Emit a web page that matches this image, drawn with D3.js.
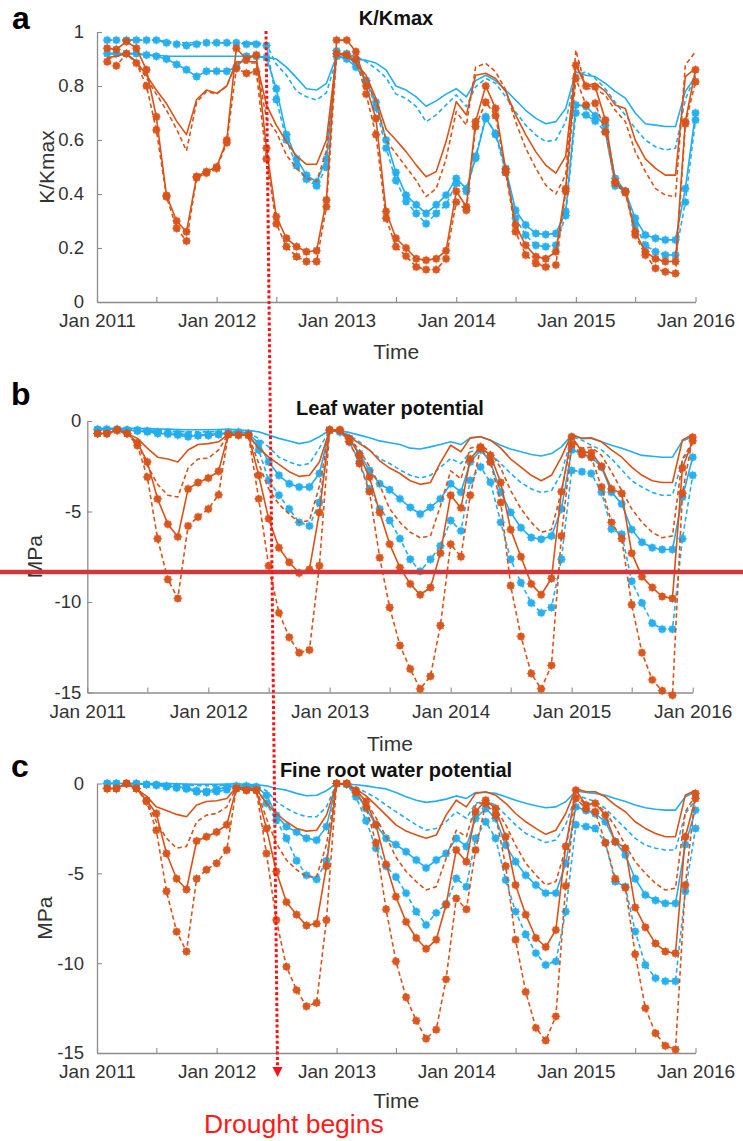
<!DOCTYPE html>
<html><head><meta charset="utf-8">
<script src="https://cdn.jsdelivr.net/npm/d3@7"></script>
<style>body{margin:0;background:#fff}svg{display:block}</style>
</head><body><svg id="c" width="743" height="1141"></svg>
<script>
// ---- time axis ----
const months = d3.range(1, 61).map(m => new Date(2011, m, 1)); // Feb 2011 .. Jan 2016
const xTickLabels = ["Jan 2011", "Jan 2012", "Jan 2013", "Jan 2014", "Jan 2015", "Jan 2016"];
const kTicks = [0, 0.2, 0.4, 0.6, 0.8, 1];
const mpaTicks = [0, -5, -10, -15];

// ---- panel a: K/Kmax ----
const kBlueSolid = [0.92,0.92,0.92,0.92,0.915,0.915,0.91,0.91,0.91,0.91,0.91,0.91,0.91,0.91,0.91,0.91,0.905,
0.9,0.87,0.83,0.79,0.785,0.81,0.91,0.905,0.9,0.895,0.885,0.86,0.8,
0.785,0.76,0.725,0.745,0.77,0.79,0.76,0.82,0.84,0.82,0.785,0.748,0.71,0.68,0.66,0.668,0.717,0.853,0.84,0.835,0.81,0.78,0.755,0.7,0.66,0.655,0.65,0.65,0.78,0.835];
const kBlueDashed = [0.97,0.97,0.97,0.97,0.97,0.97,0.965,0.96,0.96,0.96,0.96,0.96,0.96,0.96,0.96,0.96,0.955,
0.88,0.84,0.78,0.76,0.748,0.775,0.9,0.915,0.91,0.89,0.865,0.83,0.77,
0.754,0.724,0.668,0.693,0.73,0.767,0.724,0.797,0.828,0.81,0.76,0.705,0.655,0.618,0.594,0.6,0.668,0.84,0.853,0.828,0.79,0.74,0.692,0.643,0.6,0.575,0.563,0.57,0.75,0.84];
const kBlueSolidMk = [0.92,0.92,0.92,0.92,0.915,0.91,0.9,0.88,0.86,0.835,0.855,0.855,0.855,0.87,0.91,0.91,0.905,
0.79,0.62,0.53,0.47,0.445,0.53,0.91,0.9,0.87,0.82,0.74,0.6,0.48,
0.396,0.36,0.328,0.36,0.396,0.458,0.42,0.532,0.68,0.625,0.495,0.34,0.285,0.254,0.25,0.254,0.335,0.73,0.725,0.69,0.655,0.458,0.41,0.31,0.248,0.236,0.23,0.23,0.42,0.7];
const kBlueDashedMk = [0.97,0.97,0.97,0.97,0.97,0.97,0.96,0.955,0.95,0.955,0.96,0.96,0.96,0.96,0.955,0.955,0.95,
0.75,0.6,0.505,0.455,0.43,0.5,0.93,0.92,0.89,0.82,0.72,0.57,0.45,
0.372,0.328,0.29,0.328,0.36,0.44,0.41,0.54,0.686,0.62,0.48,0.31,0.248,0.21,0.205,0.21,0.32,0.7,0.693,0.67,0.63,0.43,0.41,0.285,0.21,0.186,0.174,0.174,0.37,0.674];
const kOrangeSolid = [0.905,0.91,0.92,0.89,0.84,0.785,0.735,0.67,0.62,0.75,0.785,0.773,0.8,0.89,0.89,0.89,0.73,
0.655,0.594,0.54,0.51,0.51,0.6,0.92,0.91,0.885,0.84,0.754,0.64,0.6,
0.557,0.507,0.464,0.483,0.594,0.742,0.693,0.84,0.847,0.828,0.78,0.693,0.62,0.556,0.507,0.477,0.54,0.878,0.8,0.81,0.78,0.73,0.717,0.6,0.53,0.495,0.47,0.47,0.835,0.865];
const kOrangeDashed = [0.9,0.91,0.92,0.885,0.83,0.77,0.71,0.64,0.56,0.74,0.78,0.77,0.8,0.885,0.885,0.885,0.68,
0.63,0.544,0.495,0.458,0.446,0.56,0.92,0.92,0.88,0.83,0.74,0.6,0.55,
0.5,0.45,0.39,0.42,0.53,0.705,0.655,0.87,0.884,0.853,0.785,0.668,0.57,0.495,0.433,0.4,0.47,0.933,0.79,0.79,0.765,0.71,0.668,0.557,0.483,0.42,0.396,0.39,0.878,0.927];
const kOrangeSolidMk = [0.94,0.935,0.965,0.94,0.86,0.686,0.395,0.3,0.26,0.465,0.483,0.5,0.6,0.94,0.9,0.915,0.57,
0.316,0.236,0.205,0.186,0.19,0.378,0.97,0.97,0.927,0.8,0.68,0.335,0.236,
0.2,0.16,0.155,0.16,0.19,0.41,0.353,0.668,0.8,0.717,0.49,0.285,0.21,0.168,0.16,0.186,0.42,0.877,0.8,0.797,0.674,0.446,0.41,0.26,0.186,0.16,0.15,0.15,0.668,0.86];
const kOrangeDashedMk = [0.89,0.875,0.92,0.885,0.8,0.637,0.39,0.273,0.226,0.46,0.478,0.495,0.59,0.865,0.847,0.853,0.53,
0.29,0.205,0.168,0.15,0.15,0.353,0.92,0.915,0.9,0.77,0.62,0.31,0.205,
0.17,0.13,0.12,0.12,0.16,0.37,0.34,0.65,0.74,0.69,0.48,0.26,0.174,0.143,0.13,0.137,0.41,0.828,0.73,0.736,0.63,0.44,0.405,0.248,0.174,0.125,0.112,0.106,0.66,0.816];

// ---- panel b: leaf water potential (MPa) ----
const lBlueSolid = [-0.4,-0.4,-0.4,-0.4,-0.4,-0.42,-0.44,-0.45,-0.47,-0.48,-0.48,-0.48,-0.47,-0.45,-0.5,-0.52,
-0.6,-0.78,-0.96,-1.1,-1.25,-1.15,-0.87,-0.5,-0.55,-0.63,-0.78,-0.93,-1.1,-1.2,
-1.3,-1.5,-1.55,-1.43,-1.3,-1.15,-1.3,-0.93,-0.87,-1.06,-1.34,-1.55,-1.7,-1.85,-1.93,-1.8,-1.43,-0.78,-0.96,-0.96,-1.15,-1.34,-1.5,-1.7,-1.9,-1.95,-2.0,-2.0,-1.1,-0.87];
const lBlueDashed = [-0.5,-0.5,-0.5,-0.5,-0.5,-0.5,-0.52,-0.55,-0.58,-0.6,-0.6,-0.6,-0.58,-0.55,-0.6,-0.65,
-0.96,-1.43,-2.0,-2.26,-2.45,-2.35,-1.5,-0.5,-0.6,-0.78,-1.15,-1.6,-2.08,-2.35,
-2.7,-3.0,-3.15,-3.0,-2.55,-2.08,-2.35,-1.7,-1.6,-1.8,-2.35,-2.9,-3.4,-3.75,-3.95,-3.85,-2.9,-0.87,-1.06,-1.34,-1.6,-2.08,-2.7,-3.3,-3.65,-3.95,-4.1,-4.1,-2.17,-1.34];
const lBlueSolidMk = [-0.45,-0.45,-0.45,-0.5,-0.55,-0.6,-0.69,-0.72,-0.78,-0.87,-0.8,-0.74,-0.7,-0.65,-0.6,-0.69,
-1.24,-2.26,-3.0,-3.47,-3.65,-3.65,-2.9,-0.5,-0.6,-0.96,-1.8,-2.73,-3.47,-3.8,
-4.3,-4.77,-5.14,-4.77,-4.3,-3.47,-3.93,-2.26,-1.6,-2.26,-3.93,-5.05,-5.9,-6.44,-6.53,-6.35,-4.86,-1.6,-1.8,-2.0,-2.55,-3.93,-4.58,-6.0,-6.7,-7.0,-7.1,-7.1,-4.2,-2.0];
const lBlueDashedMk = [-0.5,-0.5,-0.5,-0.5,-0.5,-0.55,-0.6,-0.65,-0.7,-0.75,-0.8,-0.8,-0.75,-0.7,-0.7,-0.75,
-1.6,-3.28,-4.1,-4.86,-5.6,-5.8,-4.5,-0.5,-0.6,-1.15,-2.26,-3.75,-4.86,-5.5,
-6.5,-7.64,-8.3,-7.64,-6.9,-5.5,-6.07,-3.28,-2.54,-3.38,-5.6,-7.64,-8.94,-10.05,-10.6,-10.3,-7.64,-2.73,-2.8,-2.9,-3.93,-5.97,-6.25,-8.85,-10.05,-11.17,-11.5,-11.5,-6.5,-3.0];
const lOrangeSolid = [-0.69,-0.69,-0.5,-0.69,-0.96,-1.5,-2.0,-2.1,-2.26,-1.6,-1.3,-1.25,-1.15,-0.74,-0.78,-0.78,
-1.5,-2.0,-2.4,-2.8,-3.06,-3.0,-2.26,-0.5,-0.6,-0.87,-1.25,-1.6,-2.2,-2.6,
-2.9,-3.3,-3.5,-3.4,-2.3,-1.34,-1.7,-0.93,-0.87,-1.06,-1.5,-2.1,-2.55,-3.0,-3.3,-3.0,-2.0,-0.74,-0.96,-0.93,-1.15,-1.6,-2.0,-2.55,-3.0,-3.3,-3.4,-3.4,-1.05,-0.74];
const lOrangeDashed = [-0.69,-0.69,-0.5,-0.69,-1.2,-2.45,-3.5,-4.1,-4.2,-2.6,-2.1,-2.05,-1.6,-0.74,-0.78,-0.78,
-2.35,-3.75,-4.6,-5.15,-5.6,-5.5,-3.6,-0.5,-0.6,-0.96,-1.6,-2.5,-3.55,-4.85,
-5.6,-6.15,-6.45,-6.35,-4.7,-2.75,-3.2,-1.5,-1.35,-1.7,-2.6,-3.85,-4.85,-5.6,-6.15,-6.0,-3.9,-1.06,-1.5,-1.45,-1.9,-2.8,-3.85,-4.85,-5.6,-6.15,-6.45,-6.35,-2.1,-1.15];
const lOrangeSolidMk = [-0.69,-0.69,-0.5,-0.69,-1.2,-2.26,-4.3,-5.7,-6.4,-3.75,-3.4,-3.15,-2.78,-0.74,-0.78,-0.78,
-3.0,-5.4,-7.0,-7.8,-8.4,-8.2,-5.05,-0.5,-0.5,-0.96,-1.9,-3.1,-5.05,-6.8,
-8.1,-9.0,-9.6,-9.2,-7.3,-4.1,-4.8,-2.1,-1.43,-1.9,-3.4,-6.0,-7.5,-9.0,-9.6,-8.7,-3.9,-0.87,-1.7,-1.75,-2.5,-3.75,-4.0,-7.3,-8.6,-9.2,-9.7,-9.8,-2.6,-1.1];
const lOrangeDashedMk = [-0.69,-0.69,-0.5,-0.69,-1.35,-3.1,-6.5,-8.75,-9.8,-5.8,-5.3,-4.86,-4.08,-0.74,-0.78,-0.78,
-4.3,-8.0,-10.6,-11.95,-12.8,-12.65,-8.0,-0.5,-0.5,-1.15,-2.35,-3.9,-7.55,-10.3,
-12.4,-13.7,-14.8,-14.1,-11.3,-6.8,-7.5,-4.1,-1.5,-2.26,-4.5,-9.1,-11.9,-13.95,-14.8,-13.5,-6.35,-1.3,-1.85,-2.0,-3.65,-5.6,-6.5,-10.15,-12.8,-14.3,-14.9,-15.15,-4.0,-0.9];

// ---- panel c: fine root water potential (MPa) ----
const rBlueSolid = [0,0,0,0,0,0,0,-0.02,-0.03,-0.04,-0.04,-0.04,-0.03,-0.02,-0.04,-0.07,
-0.13,-0.28,-0.37,-0.55,-0.68,-0.65,-0.4,0,-0.04,-0.07,-0.13,-0.22,-0.3,-0.5,
-0.74,-0.93,-1.05,-0.98,-0.87,-0.69,-0.83,-0.5,-0.5,-0.55,-0.74,-0.93,-1.1,-1.24,-1.35,-1.3,-1.02,-0.42,-0.5,-0.55,-0.65,-0.83,-1.0,-1.2,-1.35,-1.43,-1.48,-1.48,-0.74,-0.46];
const rBlueDashed = [0,0,0,0,-0.02,-0.03,-0.05,-0.08,-0.1,-0.12,-0.12,-0.12,-0.1,-0.08,-0.1,-0.15,
-0.4,-1.0,-1.39,-1.67,-1.85,-1.85,-1.3,0,-0.07,-0.2,-0.5,-0.8,-1.2,-1.57,
-1.94,-2.3,-2.6,-2.5,-2.13,-1.57,-1.94,-1.1,-0.98,-1.2,-1.76,-2.3,-2.78,-3.05,-3.28,-3.15,-2.3,-0.65,-0.83,-1.0,-1.39,-1.94,-2.5,-3.05,-3.43,-3.6,-3.7,-3.7,-1.67,-0.93];
const rBlueSolidMk = [0,0,0,-0.02,-0.05,-0.07,-0.13,-0.18,-0.22,-0.4,-0.44,-0.3,-0.22,-0.13,-0.13,-0.18,
-0.65,-1.76,-2.4,-2.7,-3.05,-3.15,-2.4,0,-0.04,-0.5,-1.39,-2.3,-3.05,-3.4,
-3.8,-4.26,-4.7,-4.26,-3.9,-3.05,-3.5,-1.94,-1.39,-1.94,-3.43,-4.35,-5.1,-5.65,-6.1,-6.1,-4.44,-1.3,-1.5,-1.67,-2.13,-3.24,-3.98,-5.3,-6.2,-6.5,-6.67,-6.67,-3.4,-1.48];
const rBlueDashedMk = [0,0,0,0,-0.05,-0.1,-0.18,-0.25,-0.3,-0.46,-0.5,-0.45,-0.35,-0.2,-0.2,-0.3,
-1.1,-2.05,-3.05,-4.3,-5.1,-5.33,-4.3,0,-0.04,-0.74,-2.07,-3.6,-4.6,-5.2,
-6.1,-7.13,-7.87,-7.2,-6.7,-5.28,-5.74,-3.05,-2.13,-3.05,-5.37,-7.13,-8.4,-9.44,-10.1,-9.9,-7.13,-2.3,-2.4,-2.5,-3.3,-5.46,-5.74,-8.24,-10.1,-10.83,-11.0,-11.0,-6.0,-2.5];
const rOrangeSolid = [-0.28,-0.28,0,-0.3,-0.7,-1.3,-1.5,-1.72,-1.85,-1.2,-1.0,-0.96,-0.83,-0.2,-0.28,-0.3,
-1.1,-1.67,-2.13,-2.5,-2.65,-2.6,-1.76,0,-0.07,-0.3,-0.69,-1.2,-1.76,-2.3,
-2.65,-2.87,-3.05,-2.87,-1.76,-0.93,-1.3,-0.55,-0.46,-0.65,-1.1,-1.67,-2.13,-2.5,-2.83,-2.6,-1.67,-0.28,-0.46,-0.46,-0.74,-1.2,-1.57,-2.13,-2.5,-2.78,-2.96,-2.96,-0.65,-0.37];
const rOrangeDashed = [-0.28,-0.28,0,-0.3,-0.93,-2.13,-3.05,-3.6,-3.5,-2.13,-1.76,-1.67,-1.3,-0.2,-0.28,-0.3,
-1.94,-3.33,-4.26,-4.8,-5.18,-5.18,-3.4,0,-0.07,-0.4,-1.0,-1.9,-2.96,-4.1,
-4.9,-5.46,-5.93,-5.74,-4.17,-2.6,-2.96,-1.2,-1.0,-1.39,-2.3,-3.43,-4.44,-5.1,-5.65,-5.46,-3.6,-0.65,-1.2,-1.1,-1.57,-2.4,-3.43,-4.35,-5.0,-5.56,-5.93,-5.83,-1.57,-0.65];
const rOrangeSolidMk = [-0.28,-0.28,0,-0.28,-0.93,-1.67,-3.9,-5.3,-5.9,-3.2,-2.96,-2.7,-2.3,-0.28,-0.37,-0.37,
-2.5,-4.9,-6.6,-7.3,-7.9,-7.8,-4.6,0,0,-0.37,-1.0,-2.3,-4.5,-6.3,
-7.7,-8.6,-9.2,-8.7,-6.75,-3.7,-4.35,-1.57,-0.93,-1.39,-2.96,-5.65,-7.3,-8.6,-9.1,-8.15,-3.5,-0.37,-1.2,-1.1,-1.76,-3.24,-3.6,-6.9,-8.0,-8.9,-9.35,-9.45,-2.96,-0.83];
const rOrangeDashedMk = [-0.28,-0.28,0,-0.28,-1.0,-2.6,-6.0,-8.25,-9.35,-5.3,-4.8,-4.44,-3.7,-0.28,-0.37,-0.37,
-3.9,-7.6,-10.2,-11.5,-12.4,-12.2,-7.6,0,0,-0.5,-1.3,-3.3,-7.0,-9.9,
-11.9,-13.2,-14.2,-13.7,-10.9,-6.4,-7.0,-3.7,-1.1,-1.76,-4.6,-8.7,-11.6,-13.6,-14.3,-12.96,-5.7,-0.83,-1.4,-1.57,-3.3,-5.3,-5.8,-9.5,-12.5,-13.9,-14.6,-14.8,-5.65,-0.55];

// ---- styling ----
const FONT = "'Liberation Sans', Arial, Helvetica, sans-serif";
const BLUE = "#22aef0";
const ORANGE = "#d95319";
const AXIS = "#8c8c8c";
const TEXT = "#333333";

const svg = d3.select("#c");
const xTickDates = d3.range(0, 11).map(i => new Date(2011, i * 6, 1));

const panels = [
  { letter: "a", title: "K/Kmax", ylabel: "K/Kmax", x0: 97, x1: 695.5, yTop: 32, yBot: 302, domain: [0, 1], ticks: kTicks,
    fmt: d => d === 0 || d === 1 ? String(d) : d.toFixed(1), yPad: 13, xPad: 12, ylabX: 47,
    letterPos: [12, 29], titlePos: [396, 25], timeY: 359,
    series: [kBlueSolid, kBlueDashed, kBlueSolidMk, kBlueDashedMk, kOrangeSolid, kOrangeDashed, kOrangeSolidMk, kOrangeDashedMk] },
  { letter: "b", title: "Leaf water potential", ylabel: "MPa", x0: 87.3, x1: 692.7, yTop: 421, yBot: 692.5, domain: [-15, 0], ticks: mpaTicks,
    fmt: d => String(d), yPad: 6, xPad: 12, ylabX: 35,
    letterPos: [11, 405], titlePos: [390, 415], timeY: 751,
    series: [lBlueSolid, lBlueDashed, lBlueSolidMk, lBlueDashedMk, lOrangeSolid, lOrangeDashed, lOrangeSolidMk, lOrangeDashedMk] },
  { letter: "c", title: "Fine root water potential", ylabel: "MPa", x0: 97, x1: 695.5, yTop: 783.5, yBot: 1053, domain: [-15, 0], ticks: mpaTicks,
    fmt: d => String(d), yPad: 13, xPad: 12, ylabX: 45,
    letterPos: [11, 777], titlePos: [396, 777], timeY: 1108,
    series: [rBlueSolid, rBlueDashed, rBlueSolidMk, rBlueDashedMk, rOrangeSolid, rOrangeDashed, rOrangeSolidMk, rOrangeDashedMk] }
];

const styles = [
  { color: BLUE, dash: null, marker: false },
  { color: BLUE, dash: "4.5,3", marker: false },
  { color: BLUE, dash: null, marker: true },
  { color: BLUE, dash: "4.5,3", marker: true },
  { color: ORANGE, dash: null, marker: false },
  { color: ORANGE, dash: "4.5,3", marker: false },
  { color: ORANGE, dash: null, marker: true },
  { color: ORANGE, dash: "4.5,3", marker: true }
];

const s = 4.6, t = s * 0.7;
const starPath = `M${-s},0H${s}M0,${-s}V${s}M${-t},${-t}L${t},${t}M${-t},${t}L${t},${-t}`;

panels.forEach(p => {
  const g = svg.append("g");
  const x = d3.scaleTime().domain([new Date(2011, 0, 1), new Date(2016, 0, 1)]).range([p.x0, p.x1]);
  const y = d3.scaleLinear().domain(p.domain).range([p.yBot, p.yTop]);

  const xa = g.append("g").attr("transform", `translate(0,${p.yBot})`)
    .call(d3.axisBottom(x).tickValues(xTickDates).tickSize(-5).tickSizeOuter(0).tickPadding(p.xPad)
      .tickFormat(d => d.getMonth() === 0 ? xTickLabels[d.getFullYear() - 2011] : ""));
  const ya = g.append("g").attr("transform", `translate(${p.x0},0)`)
    .call(d3.axisLeft(y).tickValues(p.ticks).tickSize(-5).tickSizeOuter(0).tickPadding(p.yPad).tickFormat(p.fmt));
  [xa, ya].forEach(a => {
    a.select(".domain").attr("stroke", AXIS).attr("stroke-width", 1.3);
    a.selectAll(".tick line").attr("stroke", AXIS).attr("stroke-width", 1.1);
    a.selectAll("text").attr("fill", TEXT).style("font-family", FONT);
  });
  xa.selectAll("text").style("font-size", "19px");
  ya.selectAll("text").style("font-size", "18.5px");

  const line = d3.line().x((d, i) => x(months[i])).y(d => y(d));
  p.series.forEach((vals, k) => {
    const st = styles[k];
    const sg = g.append("g");
    sg.append("path").datum(vals).attr("d", line).attr("fill", "none")
      .attr("stroke", st.color).attr("stroke-width", 1.6)
      .attr("stroke-dasharray", st.dash).attr("stroke-linejoin", "round");
    if (st.marker) {
      const mk = sg.selectAll("g.mk").data(vals).join("g")
        .attr("transform", (d, i) => `translate(${x(months[i])},${y(d)})`);
      mk.append("circle").attr("r", 3.7).attr("fill", st.color).attr("opacity", 0.92);
      mk.append("path").attr("d", starPath).attr("stroke", st.color).attr("stroke-width", 1.1).attr("opacity", 0.6);
    }
  });

  // labels
  svg.append("text").attr("x", (p.x0 + p.x1) / 2).attr("y", p.timeY).attr("text-anchor", "middle")
    .style("font-family", FONT).style("font-size", "21px").attr("fill", TEXT).text("Time");
  svg.append("text").attr("transform", `translate(${p.ylabX},${(p.yTop + p.yBot) / 2}) rotate(-90)`)
    .attr("text-anchor", "middle").attr("dy", "0.35em")
    .style("font-family", FONT).style("font-size", "21px").attr("fill", TEXT).text(p.ylabel);
  svg.append("text").attr("x", p.titlePos[0]).attr("y", p.titlePos[1]).attr("text-anchor", "middle")
    .style("font-family", FONT).style("font-size", "20px").style("font-weight", "bold").attr("fill", "#111").text(p.title);
  svg.append("text").attr("x", p.letterPos[0]).attr("y", p.letterPos[1])
    .style("font-family", FONT).style("font-size", "32px").style("font-weight", "bold").attr("fill", "#000").text(p.letter);
});

// ---- annotations ----
svg.append("line").attr("x1", 0).attr("x2", 743).attr("y1", 572).attr("y2", 572)
  .attr("stroke", "#d0383c").attr("stroke-width", 4.5);
svg.append("line").attr("x1", 266).attr("y1", 31).attr("x2", 277.5).attr("y2", 1066)
  .attr("stroke", "#ff1111").attr("stroke-width", 3).attr("stroke-dasharray", "3,2.4");
svg.append("path").attr("d", "M272.5,1067L282.5,1067L277.5,1077Z").attr("fill", "#ff1111");
svg.append("text").attr("x", 204).attr("y", 1133)
  .style("font-family", FONT).style("font-size", "26.5px").attr("fill", "#ff1a1a").text("Drought begins");
</script>
</body></html>
